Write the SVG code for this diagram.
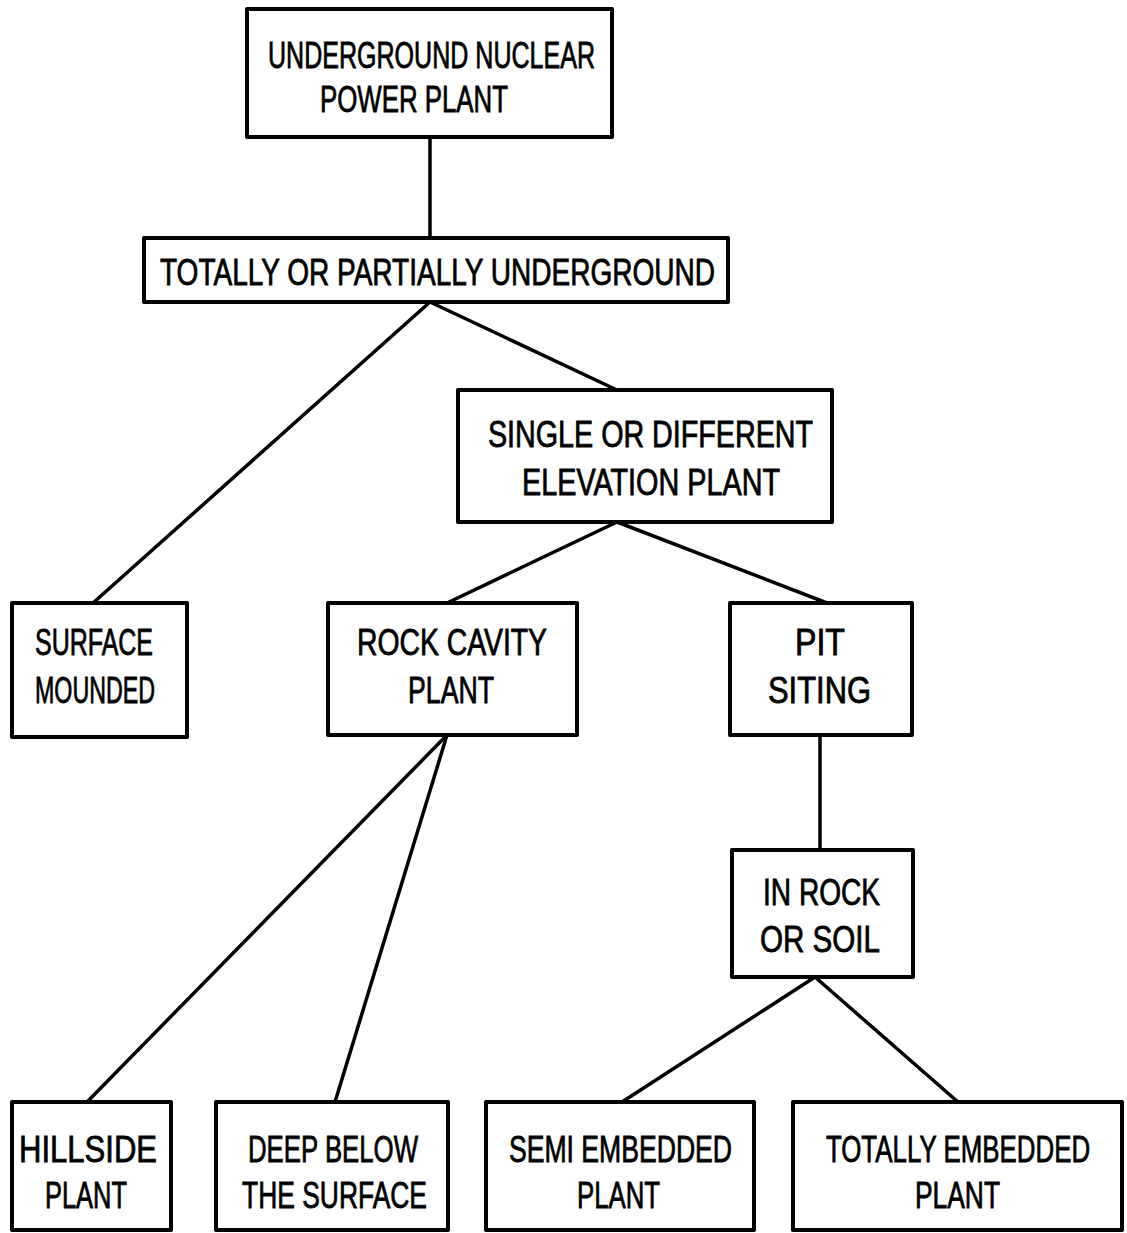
<svg xmlns="http://www.w3.org/2000/svg" width="1127" height="1233" viewBox="0 0 1127 1233">
<style>
.box{fill:#fff;stroke:#000;stroke-width:4;stroke-linejoin:round}
.ln{stroke:#000;stroke-width:3.5;fill:none;stroke-linecap:round}
text{font-family:"Liberation Sans","DejaVu Sans",sans-serif;font-size:37px;fill:#000;stroke:#000;stroke-width:0.8;text-anchor:middle}
</style>
<rect width="1127" height="1233" fill="#fff"/>
<g id="connectors">
<line class="ln" x1="430" y1="137" x2="430" y2="238"/>
<line class="ln" x1="430" y1="302" x2="93" y2="603"/>
<line class="ln" x1="430" y1="302" x2="617" y2="390"/>
<line class="ln" x1="617" y1="522" x2="447" y2="603"/>
<line class="ln" x1="617" y1="522" x2="827" y2="603"/>
<line class="ln" x1="447" y1="735" x2="87" y2="1102"/>
<line class="ln" x1="447" y1="735" x2="335" y2="1102"/>
<line class="ln" x1="820" y1="735" x2="820" y2="850"/>
<line class="ln" x1="815" y1="977" x2="622" y2="1102"/>
<line class="ln" x1="815" y1="977" x2="958" y2="1102"/>
</g>
<g id="n1">
<rect class="box" x="247" y="9" width="365" height="128"/>
<text x="431.5" y="68" textLength="327" lengthAdjust="spacingAndGlyphs">UNDERGROUND NUCLEAR</text>
<text x="414" y="112" textLength="188" lengthAdjust="spacingAndGlyphs">POWER PLANT</text>
</g>
<g id="n2">
<rect class="box" x="144" y="238" width="584" height="64"/>
<text x="437.5" y="285" textLength="555" lengthAdjust="spacingAndGlyphs">TOTALLY OR PARTIALLY UNDERGROUND</text>
</g>
<g id="n3">
<rect class="box" x="458" y="390" width="374" height="132"/>
<text x="650.5" y="447" textLength="325" lengthAdjust="spacingAndGlyphs">SINGLE OR DIFFERENT</text>
<text x="651" y="495" textLength="258" lengthAdjust="spacingAndGlyphs">ELEVATION PLANT</text>
</g>
<g id="n4">
<rect class="box" x="12" y="603" width="175" height="134"/>
<text x="94" y="655" textLength="118" lengthAdjust="spacingAndGlyphs">SURFACE</text>
<text x="95" y="703" textLength="120" lengthAdjust="spacingAndGlyphs">MOUNDED</text>
</g>
<g id="n5">
<rect class="box" x="328" y="603" width="249" height="132"/>
<text x="452" y="655" textLength="190" lengthAdjust="spacingAndGlyphs">ROCK CAVITY</text>
<text x="451" y="703" textLength="86" lengthAdjust="spacingAndGlyphs">PLANT</text>
</g>
<g id="n6">
<rect class="box" x="730" y="603" width="182" height="132"/>
<text x="820" y="655" textLength="50" lengthAdjust="spacingAndGlyphs">PIT</text>
<text x="819.5" y="703" textLength="103" lengthAdjust="spacingAndGlyphs">SITING</text>
</g>
<g id="n7">
<rect class="box" x="732" y="850" width="181" height="127"/>
<text x="821.5" y="905" textLength="117" lengthAdjust="spacingAndGlyphs">IN ROCK</text>
<text x="820" y="952" textLength="120" lengthAdjust="spacingAndGlyphs">OR SOIL</text>
</g>
<g id="n8">
<rect class="box" x="12" y="1102" width="159" height="128"/>
<text x="88" y="1162" textLength="138" lengthAdjust="spacingAndGlyphs">HILLSIDE</text>
<text x="86" y="1208" textLength="82" lengthAdjust="spacingAndGlyphs">PLANT</text>
</g>
<g id="n9">
<rect class="box" x="216" y="1102" width="232" height="128"/>
<text x="333" y="1162" textLength="170" lengthAdjust="spacingAndGlyphs">DEEP BELOW</text>
<text x="334.5" y="1208" textLength="185" lengthAdjust="spacingAndGlyphs">THE SURFACE</text>
</g>
<g id="n10">
<rect class="box" x="486" y="1102" width="268" height="128"/>
<text x="620.5" y="1162" textLength="223" lengthAdjust="spacingAndGlyphs">SEMI EMBEDDED</text>
<text x="618.5" y="1208" textLength="83" lengthAdjust="spacingAndGlyphs">PLANT</text>
</g>
<g id="n11">
<rect class="box" x="793" y="1102" width="329" height="128"/>
<text transform="translate(958,1162) scale(0.7,1)" x="0" y="0">TOTALLY EMBEDDED</text>
<text x="957.5" y="1208" textLength="85" lengthAdjust="spacingAndGlyphs">PLANT</text>
</g>
</svg>
